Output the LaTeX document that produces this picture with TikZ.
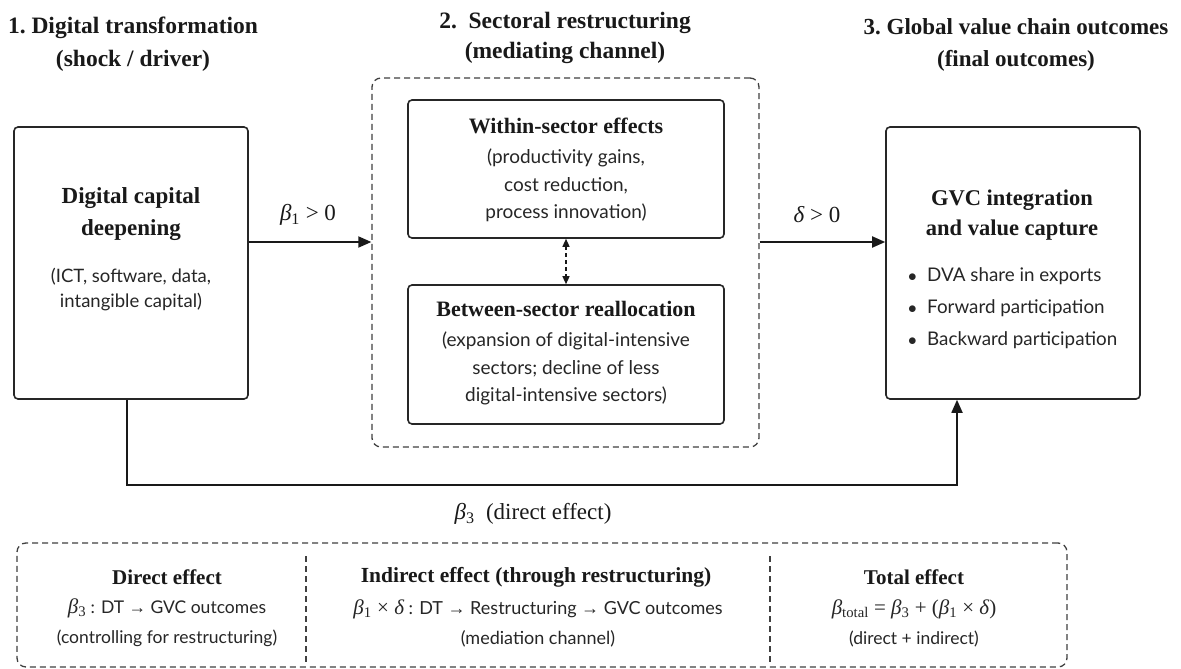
\documentclass[tikz,border=0pt]{standalone}
\usepackage{fontspec}
\setmainfont{Liberation Serif}
\newfontfamily\sansf{Lato}
\usetikzlibrary{arrows.meta}
\newcommand\gb{{\rmfamily\itshape β}}
\newcommand\gd{{\rmfamily\itshape δ}}
\newcommand\rar{{\rmfamily →}}
\newcommand\sbs[1]{\textsubscript{\rmfamily\upshape #1}}
\tikzset{
  solidbox/.style={draw=black!85, line width=1.6pt, rounded corners=4pt, inner sep=0pt},
  dashbox/.style={draw=black!75, line width=1.3pt, dash pattern=on 6pt off 4pt, rounded corners=9pt, inner sep=0pt},
  arr/.style={draw=black!90, line width=1.8pt, -{Triangle[length=13pt,width=11pt]}},
  dasharr/.style={draw=black!90, line width=1.3pt, dash pattern=on 4pt off 3pt, {Triangle[length=8pt,width=7pt]}-{Triangle[length=8pt,width=7pt]}},
  head/.style={font=\fontsize{23}{32}\selectfont\bfseries, align=center, text=black!90, inner sep=0pt},
  subhead/.style={font=\fontsize{21}{30}\selectfont\bfseries, align=center, text=black!90, inner sep=0pt},
  body/.style={font=\sansf\fontsize{19}{27.5}\selectfont, align=center, text=black!85, inner sep=0pt},
  lbl/.style={font=\fontsize{23}{25}\selectfont, text=black!90, inner sep=0pt},
  divider/.style={draw=black!75, line width=1.1pt, dash pattern=on 6pt off 4pt}
}
\begin{document}
\begin{tikzpicture}[x=1pt,y=-1pt]
\useasboundingbox[fill=white] (0,0) rectangle (1181,669);

% column titles
\node[head, font=\fontsize{23.5}{33}\selectfont\bfseries] (t1) at (133,44) {1.\ Digital transformation\\(shock / driver)};
\node[head, font=\fontsize{23.5}{30}\selectfont\bfseries] (t2) at (565,38) {2.\ \ Sectoral restructuring\\(mediating channel)};
\node[head, font=\fontsize{23}{32}\selectfont\bfseries] (t3) at (1016,45) {3.\ Global value chain outcomes\\(final outcomes)};

% left box
\node[solidbox, minimum width=234pt, minimum height=272pt] (dcd) at (131,263) {};
\node[head] (dcdh) at (131,214) {Digital capital\\deepening};
\node[body, font=\sansf\fontsize{18.5}{25.5}\selectfont] (dcdb) at (131,289.5) {(ICT, software, data,\\intangible capital)};

% middle container
\node[dashbox, minimum width=387pt, minimum height=369pt] (mid) at (565.5,262.5) {};
\node[solidbox, minimum width=316pt, minimum height=138pt] (within) at (566,169) {};
\node[head, font=\fontsize{22}{25}\selectfont\bfseries] (withinh) at (566,126) {Within-sector effects};
\node[body] (withinb) at (566,185.5) {(productivity gains,\\cost reduction,\\process innovation)};
\node[solidbox, minimum width=316pt, minimum height=139pt] (between) at (566,354.5) {};
\node[head, font=\fontsize{22}{25}\selectfont\bfseries] (betweenh) at (566,309) {Between-sector reallocation};
\node[body] (betweenb) at (566,368.5) {(expansion of digital-intensive\\sectors; decline of less\\digital-intensive sectors)};
\draw[dasharr] (within.south) -- (between.north);

% right box
\node[solidbox, minimum width=254pt, minimum height=272pt] (gvc) at (1013,263) {};
\node[head, font=\fontsize{22.5}{30}\selectfont\bfseries] (gvch) at (1012,215) {GVC integration\\and value capture};
\node[body, align=left, anchor=west, font=\sansf\fontsize{18.8}{32}\selectfont] (gvcb) at (908,308)
  {\makebox[19pt][l]{$\bullet$}DVA share in exports\\\makebox[19pt][l]{$\bullet$}Forward participation\\\makebox[19pt][l]{$\bullet$}Backward participation};

% connectors
\coordinate (ay) at (0,242);
\draw[arr] (dcd.east |- ay) -- (mid.west |- ay);
\draw[arr] (mid.east |- ay) -- (gvc.west |- ay);
\node[lbl] (b1) at (308,215) {\gb\sbs{1} > 0};
\node[lbl] (dl1) at (817,215) {\gd\ > 0};

\coordinate (dl) at (127,485);
\coordinate (dr) at (957,485);
\draw[arr] (dcd.south -| dl) -- (dl) -- (dr) -- (gvc.south -| dr);
\node[lbl] (b3) at (533,514) {\gb\sbs{3}\ \ (direct effect)};

% bottom summary box
\node[dashbox, minimum width=1050pt, minimum height=124pt] (sum) at (542,605) {};
\draw[divider] (306,556) -- (306,662);
\draw[divider] (770,556) -- (770,662);

\node[subhead] (c1h) at (167,577) {Direct effect};
\node[body, font=\sansf\fontsize{17.5}{30}\selectfont] (c1b) at (167,623)
  {{\fontsize{21}{30}\selectfont\gb\sbs{3}} : DT \rar\ GVC outcomes\\(controlling for restructuring)};

\node[subhead, font=\fontsize{21.5}{30}\selectfont\bfseries] (c2h) at (536,577) {Indirect effect (through restructuring)};
\node[body, font=\sansf\fontsize{18}{30}\selectfont] (c2b) at (538,623)
  {{\fontsize{21}{30}\selectfont\gb\sbs{1} {\rmfamily ×} \gd} : DT \rar\ Restructuring \rar\ GVC outcomes\\(mediation channel)};

\node[subhead] (c3h) at (914,577) {Total effect};
\node[body, font=\sansf\fontsize{17.5}{30}\selectfont] (c3b) at (914,623)
  {{\fontsize{21}{30}\selectfont\rmfamily\gb\sbs{total} = \gb\sbs{3} + (\gb\sbs{1} × \gd)}\\(direct + indirect)};
\end{tikzpicture}
\end{document}
